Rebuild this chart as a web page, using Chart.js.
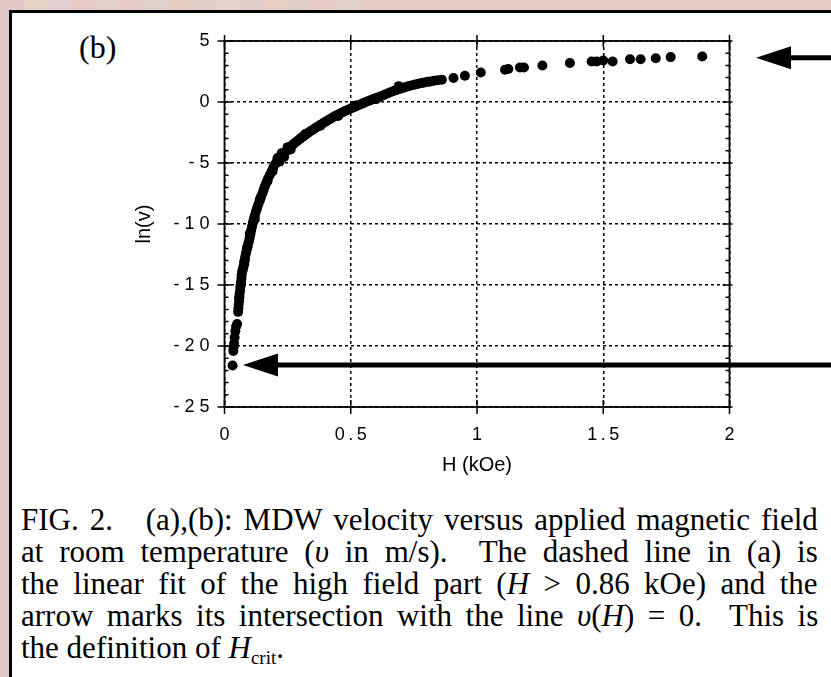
<!DOCTYPE html>
<html>
<head>
<meta charset="utf-8">
<script src="https://cdn.jsdelivr.net/npm/chart.js@4.4.0/dist/chart.umd.min.js"></script>
<style>
  html, body { margin: 0; padding: 0; }
  body {
    width: 831px; height: 677px; overflow: hidden; position: relative;
    background: linear-gradient(90deg,
      #dfc8c7 0 24px, #e6d2c6 24px 48px, #e3cfcf 48px 72px, #e8cbc8 72px 96px,
      #e2d0c9 96px 120px, #e4cbc9 120px 144px, #dfd2cc 144px 168px, #e6cdc4 168px 192px,
      #e3cdcb 192px 216px, #e8d3cb 216px 240px, #e2cdcd 240px 264px, #e6d0c6 264px 288px,
      #e1cfca 288px 312px, #e7cbc9 312px 336px, #e3d2cb 336px 360px, #e6cec6 360px 384px);
  }
  #panel {
    position: absolute; left: 9px; top: 10px; width: 840px; height: 690px;
    background: #fff; border-top: 3px solid #000; border-left: 3px solid #000;
  }
  #wrap { position: absolute; left: 0; top: 0; width: 831px; height: 490px; }
  #lbl { position: absolute; left: 79px; top: 29px; font: 32px "Liberation Serif", serif; color: #000; }
  #caption {
    position: absolute; left: 21px; top: 503.5px;
    font-family: "Liberation Serif", serif; font-size: 31px; line-height: 32px; color: #000;
  }
  #caption div { white-space: nowrap; height: 32px; }
  #caption span.ln { display: inline-block; }
  #caption sub { font-size: 19px; line-height: 0; vertical-align: -6px; }
</style>
</head>
<body>
<div id="panel"></div>
<div id="lbl">(b)</div>
<div id="wrap"><canvas id="lnvChart" width="831" height="490"></canvas></div>
<div id="caption">
  <div><span class="ln">FIG. 2.&nbsp;&nbsp; (a),(b): MDW velocity versus applied magnetic field</span></div>
  <div><span class="ln">at room temperature (<i>υ</i> in m/s).&nbsp; The dashed line in (a) is</span></div>
  <div><span class="ln">the linear fit of the high field part (<i>H</i> &gt; 0.86 kOe) and the</span></div>
  <div><span class="ln">arrow marks its intersection with the line <i>υ</i>(<i>H</i>) = 0.&nbsp; This is</span></div>
  <div><span class="ln">the definition of <i>H</i><sub>crit</sub>.</span></div>
</div>
<script>
// H in kOe, ln(v)
var hField = [
  0.032, 0.035, 0.036, 0.038, 0.040, 0.043, 0.046, 0.050,
  0.054, 0.055, 0.056, 0.058, 0.059, 0.060, 0.062, 0.063, 0.065, 0.067, 0.068, 0.070,
  0.073, 0.075, 0.078, 0.080, 0.082, 0.085, 0.088, 0.091, 0.094, 0.097, 0.100, 0.103,
  0.106, 0.109, 0.112, 0.116, 0.120, 0.124, 0.129, 0.134, 0.139, 0.144, 0.150, 0.155,
  0.160, 0.166, 0.172, 0.179, 0.186, 0.193, 0.200, 0.207, 0.214, 0.222, 0.230, 0.238,
  0.246, 0.255, 0.264, 0.273, 0.282, 0.291, 0.300, 0.310, 0.320, 0.330, 0.340, 0.350,
  0.360, 0.370, 0.380, 0.390, 0.400, 0.410, 0.420, 0.430, 0.440, 0.450, 0.460, 0.470,
  0.480, 0.490, 0.500, 0.510, 0.520, 0.530, 0.540, 0.550, 0.560, 0.570, 0.580, 0.590,
  0.600, 0.612, 0.624, 0.636, 0.648, 0.660, 0.672, 0.684, 0.696, 0.708, 0.720, 0.732,
  0.744, 0.756, 0.768, 0.780, 0.792, 0.804, 0.816, 0.830, 0.845, 0.861,
  0.100, 0.120, 0.140, 0.210, 0.218, 0.226, 0.236, 0.250, 0.262, 0.690, 0.600, 0.450,
  0.058, 0.066, 0.078, 0.090, 0.170, 0.190, 0.320, 0.380, 0.520,
  0.907, 0.952, 1.015, 1.111, 1.124, 1.170, 1.186, 1.259, 1.368, 1.454, 1.474, 1.500,
  1.537, 1.606, 1.648, 1.708, 1.767, 1.892
];
var lnVel = [
  -21.6, -20.4, -20.1, -19.8, -19.3, -18.8, -18.4, -18.2,
  -17.2, -16.9, -16.6, -16.3, -16.0, -15.7, -15.4, -15.1, -14.8, -14.5, -14.2, -13.9,
  -13.7, -13.5, -13.3, -13.0, -12.7, -12.4, -12.1, -11.9, -11.6, -11.4, -11.1, -10.8,
  -10.5, -10.2, -9.9, -9.6, -9.3, -9.0, -8.7, -8.4, -8.1, -7.8, -7.5, -7.2,
  -6.9, -6.6, -6.3, -6.0, -5.7, -5.4, -5.1, -4.9, -4.7, -4.5, -4.3, -4.15,
  -4.0, -3.8, -3.6, -3.45, -3.3, -3.15, -3.0, -2.85, -2.7, -2.55, -2.4, -2.27,
  -2.13, -2.0, -1.87, -1.74, -1.62, -1.5, -1.38, -1.25, -1.13, -1.02, -0.92, -0.82,
  -0.72, -0.63, -0.54, -0.45, -0.36, -0.27, -0.18, -0.09, 0.0, 0.08, 0.16, 0.24,
  0.32, 0.42, 0.52, 0.62, 0.72, 0.82, 0.92, 1.01, 1.09, 1.16, 1.24, 1.31,
  1.38, 1.44, 1.50, 1.55, 1.60, 1.65, 1.69, 1.74, 1.78, 1.82,
  -10.8, -9.6, -8.0, -4.6, -4.9, -4.2, -4.5, -3.7, -3.9, 1.30, 0.22, -1.15,
  -16.0, -14.9, -13.1, -11.9, -6.5, -5.7, -2.62, -1.95, -0.28,
  1.96, 2.15, 2.42, 2.64, 2.70, 2.83, 2.83, 2.99, 3.19, 3.32, 3.32, 3.40,
  3.32, 3.51, 3.51, 3.59, 3.68, 3.73
];

var xTickValues = [0, 0.5, 1, 1.5, 2];
var xTickLabels = ['0', '0.5', '1', '1.5', '2'];
var yTickValues = [-25, -20, -15, -10, -5, 0, 5];
var yTickLabels = ['-25', '-20', '-15', '-10', '-5', '0', '5'];

// arrows marking H_crit: tip position (H, ln v)
var arrowTipH = [2.105, 0.073];
var arrowTipLnV = [3.62, -21.55];

var sansFont = 'Liberation Sans, Arial, Helvetica, sans-serif';

function pickLabel(values, labels, v, sep) {
  for (var i = 0; i < values.length; i++) {
    if (Math.abs(values[i] - v) < 1e-6) return labels[i].split('').join(sep);
  }
  return '';
}

var framePlugin = {
  id: 'framePlugin',
  beforeDatasetsDraw: function (chart) {
    var ctx = chart.ctx, xs = chart.scales.x, ys = chart.scales.y;
    var l = xs.getPixelForValue(0), r = xs.getPixelForValue(2);
    var t = ys.getPixelForValue(5), b = ys.getPixelForValue(-25);
    ctx.save();
    ctx.strokeStyle = '#000';
    ctx.lineWidth = 1.8;
    ctx.strokeRect(l, t, r - l, b - t);
    ctx.lineWidth = 1.5;
    ctx.beginPath();
    yTickValues.forEach(function (v) {
      var y = ys.getPixelForValue(v);
      ctx.moveTo(l - 7, y); ctx.lineTo(l + 7, y);
      ctx.moveTo(r - 7, y); ctx.lineTo(r + 3, y);
    });
    for (var m = -25; m <= 5; m++) {
      var y = ys.getPixelForValue(m);
      ctx.moveTo(l, y); ctx.lineTo(l + 4, y);
      ctx.moveTo(r - 4, y); ctx.lineTo(r, y);
    }
    xTickValues.forEach(function (v) {
      var x = xs.getPixelForValue(v);
      ctx.moveTo(x, b - 7); ctx.lineTo(x, b + 7);
      ctx.moveTo(x, t - 6); ctx.lineTo(x, t + 6);
    });
    ctx.stroke();
    ctx.restore();
  },
  afterDraw: function (chart) {
    var ctx = chart.ctx, xs = chart.scales.x, ys = chart.scales.y;
    ctx.save();
    ctx.fillStyle = '#000';
    ctx.strokeStyle = '#000';
    for (var i = 0; i < arrowTipH.length; i++) {
      var tx = xs.getPixelForValue(arrowTipH[i]);
      var ty = ys.getPixelForValue(arrowTipLnV[i]);
      ctx.lineWidth = 5;
      ctx.beginPath();
      ctx.moveTo(tx + 30, ty); ctx.lineTo(chart.width + 5, ty);
      ctx.stroke();
      ctx.beginPath();
      ctx.moveTo(tx, ty);
      ctx.lineTo(tx + 35, ty - 11.5);
      ctx.lineTo(tx + 35, ty + 11.5);
      ctx.closePath();
      ctx.fill();
    }
    ctx.restore();
  }
};

var points = hField.map(function (h, i) { return {x: h, y: lnVel[i]}; });

new Chart(document.getElementById('lnvChart'), {
  type: 'scatter',
  data: {
    datasets: [{
      data: points,
      backgroundColor: '#000',
      borderWidth: 0,
      pointRadius: 5,
      pointHoverRadius: 5
    }]
  },
  options: {
    responsive: false,
    animation: false,
    events: [],
    layout: { padding: { left: 128, top: 41, right: 101.5, bottom: 8.6 } },
    plugins: { legend: { display: false }, tooltip: { enabled: false } },
    scales: {
      x: {
        type: 'linear', min: 0, max: 2,
        afterFit: function (s) { s.height = 74.4; },
        ticks: {
          stepSize: 0.5, padding: 17, color: '#000', maxRotation: 0,
          font: { family: sansFont, size: 18 },
          callback: function (v) { return pickLabel(xTickValues, xTickLabels, v, '\u2009'); }
        },
        grid: { color: '#000', lineWidth: 1.5, drawTicks: false },
        border: { display: false, dash: [3, 3] },
        title: {
          display: true, text: 'H (kOe)', color: '#000',
          font: { family: sansFont, size: 20 }
        }
      },
      y: {
        type: 'linear', min: -25, max: 5,
        afterFit: function (s) { s.width = 96.5; },
        ticks: {
          stepSize: 5, padding: 15, color: '#000',
          font: { family: sansFont, size: 18 },
          callback: function (v) { return pickLabel(yTickValues, yTickLabels, v, ' '); }
        },
        grid: { color: '#000', lineWidth: 1.5, drawTicks: false },
        border: { display: false, dash: [3, 3] },
        title: {
          display: true, text: 'ln(v)', color: '#000',
          font: { family: sansFont, size: 20 }
        }
      }
    }
  },
  plugins: [framePlugin]
});

// justify caption lines (not the last) to the width of the scan by widening the word gaps
var lines = document.querySelectorAll('#caption span.ln');
for (var k = 0; k < lines.length - 1; k++) {
  var gaps = (lines[k].textContent.match(/[ \u00a0]/g) || []).length;
  var extra = 797 - lines[k].offsetWidth;
  if (gaps > 0) lines[k].style.wordSpacing = (extra / gaps) + 'px';
}
</script>
</body>
</html>
